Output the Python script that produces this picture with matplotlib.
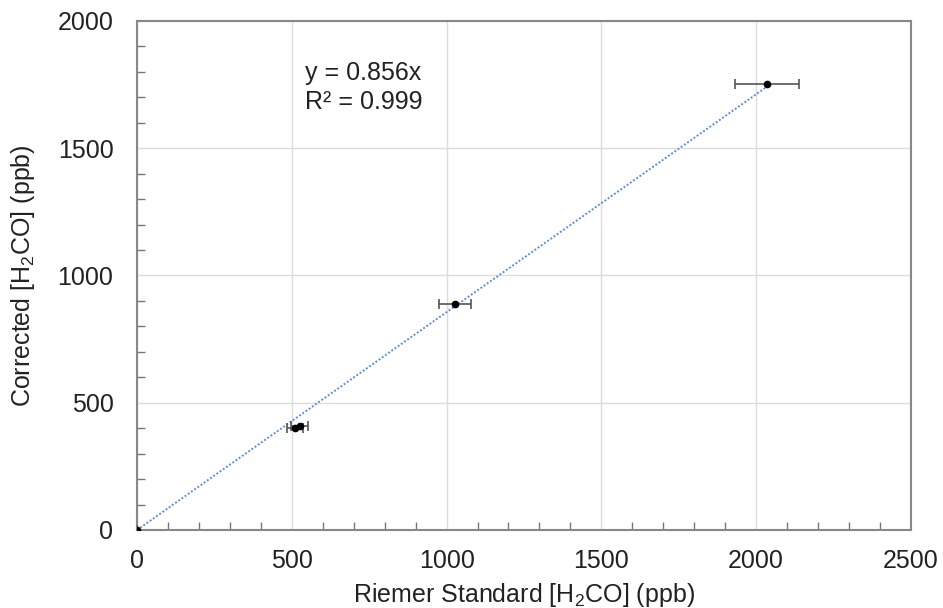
import matplotlib
matplotlib.use("Agg")
import matplotlib.pyplot as plt
import numpy as np

# ====== data ======
x_std = [0, 510, 525, 1026, 2035]
y_corr = [0, 400, 407, 888, 1753]
x_err = [0, 26, 26, 52, 102]
slope = 0.856
r2 = 0.999
# =========================================

plt.rcParams['font.family'] = ['Liberation Sans', 'DejaVu Sans']
plt.rcParams['mathtext.fontset'] = 'custom'
plt.rcParams['mathtext.rm'] = 'Liberation Sans'
plt.rcParams['mathtext.default'] = 'regular'

fig = plt.figure(figsize=(9.43, 6.08), dpi=100)
ax = fig.add_axes([0.1453, 0.1283, 0.8207, 0.8372])

# trendline through origin
xl = np.array([0, max(x_std)])
ax.plot(xl, slope * xl, linestyle=(0, (1, 1)), color='#5a8ee0', lw=1.4, zorder=2)

ax.errorbar(x_std, y_corr, xerr=x_err, fmt='o', color='black', ms=4.5,
            ecolor='#555555', elinewidth=1.2, capsize=3.5, capthick=1.2, zorder=3)

ax.set_xlim(0, 2500)
ax.set_ylim(0, 2000)
ax.set_xticks(np.arange(0, 2501, 500))
ax.set_yticks(np.arange(0, 2001, 500))
ax.set_xticks(np.arange(0, 2501, 100), minor=True)
ax.set_yticks(np.arange(0, 2001, 100), minor=True)
ax.grid(True, which='major', color='#dddddd', lw=1)
ax.set_axisbelow(True)
ax.tick_params(which='major', length=0, labelsize=18, colors='#222222')
ax.tick_params(axis='x', which='major', pad=14)
ax.tick_params(axis='y', which='major', pad=17)
ax.tick_params(which='minor', direction='in', length=6, color='#777777', width=1)
for s in ax.spines.values():
    s.set_color('#888888')
    s.set_linewidth(1.5)

ax.set_xlabel('Riemer Standard [H$_2$CO] (ppb)', fontsize=18, color='#222222')
ax.set_ylabel('Corrected [H$_2$CO] (ppb)', fontsize=18, color='#222222')
ax.xaxis.set_label_coords(0.5, -0.128)
ax.yaxis.set_label_coords(-0.147, 0.5)
ax.xaxis.label.set_va('center')
ax.yaxis.label.set_va('center')

ax.text(0.217, 0.922, 'y = {:.3f}x\nR² = {:.3f}'.format(slope, r2), transform=ax.transAxes,
        fontsize=18, color='#222222', va='top', ha='left', linespacing=1.3)

plt.savefig('out.png', dpi=100)
